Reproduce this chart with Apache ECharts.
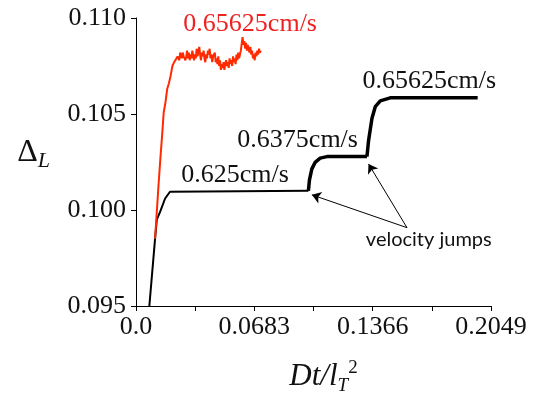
<!DOCTYPE html>
<html>
<head>
<meta charset="utf-8">
<script src="https://cdn.jsdelivr.net/npm/echarts@6/dist/echarts.min.js"></script>
<style>
  html, body { margin: 0; padding: 0; background: #fff; }
  #chart { width: 535px; height: 400px; }
</style>
</head>
<body>
<div id="chart"></div>
<script>
// 坐标轴刻度
const xTickLabels = ['0.0', '', '0.0683', '', '0.1366', '', '0.2049'];
const yTicks = [0.095, 0.100, 0.105, 0.110];

// 黑线：三段速度
const stage1T = [0.0077, 0.0110, 0.0120, 0.0139, 0.0168, 0.0196, 0.0206, 0.0995];
const stage1L = [0.0950, 0.0985, 0.0995, 0.0999, 0.1006, 0.10095, 0.1010, 0.1010];
const stage2T = [0.0995, 0.1001, 0.1015, 0.1034, 0.1063, 0.1102, 0.1333];
const stage2L = [0.1010, 0.10155, 0.10214, 0.10248, 0.1027, 0.10278, 0.10278];
const stage3T = [0.1333, 0.1342, 0.1362, 0.1381, 0.1410, 0.1467, 0.1972];
const stage3L = [0.10278, 0.10359, 0.10478, 0.10538, 0.10568, 0.10584, 0.10584];

// 红线：直接以 0.65625cm/s 运行
const redT = [
  0.0110, 0.0120, 0.0130, 0.0140, 0.0150, 0.0160, 0.0170, 0.0180, 0.0190, 0.0200,
  0.0210, 0.0220, 0.0230, 0.0240, 0.0250, 0.0255, 0.0260, 0.0265, 0.0270, 0.0275,
  0.0280, 0.0285, 0.0290, 0.0295, 0.0300, 0.0305, 0.0310, 0.0315, 0.0320, 0.0325,
  0.0330, 0.0335, 0.0340, 0.0345, 0.0350, 0.0355, 0.0360, 0.0365, 0.0370, 0.0375,
  0.0380, 0.0385, 0.0390, 0.0395, 0.0400, 0.0405, 0.0410, 0.0415, 0.0420, 0.0425,
  0.0430, 0.0435, 0.0440, 0.0445, 0.0450, 0.0455, 0.0460, 0.0465, 0.0470, 0.0475,
  0.0480, 0.0485, 0.0490, 0.0495, 0.0500, 0.0505, 0.0510, 0.0515, 0.0520, 0.0525,
  0.0530, 0.0535, 0.0540, 0.0545, 0.0550, 0.0555, 0.0560, 0.0565, 0.0570, 0.0575,
  0.0580, 0.0585, 0.0590, 0.0595, 0.0600, 0.0605, 0.0610, 0.0615, 0.0620, 0.0625,
  0.0630, 0.0635, 0.0640, 0.0645, 0.0650, 0.0655, 0.0660, 0.0665, 0.0670, 0.0675,
  0.0680, 0.0685, 0.0690, 0.0695, 0.0700, 0.0705, 0.0710, 0.0715, 0.0720
];
const redL = [
  0.0985, 0.0999, 0.1013, 0.1026, 0.1038, 0.1051, 0.1056, 0.1063, 0.1066, 0.1070,
  0.1075, 0.1077, 0.1076, 0.1080, 0.1078, 0.1082, 0.1083, 0.1079, 0.1082, 0.1080,
  0.1081, 0.1078, 0.1080, 0.1083, 0.1079, 0.1082, 0.1078, 0.1081, 0.1079, 0.1083,
  0.1082, 0.1078, 0.1081, 0.1079, 0.1084, 0.1080, 0.1082, 0.1085, 0.1081, 0.1078,
  0.1082, 0.1080, 0.1083, 0.1079, 0.1077, 0.1081, 0.1079, 0.1083, 0.1081, 0.1084,
  0.1079, 0.1081, 0.1077, 0.1080, 0.1079, 0.1082, 0.1077, 0.1079, 0.1076, 0.1080,
  0.1075, 0.1078, 0.1073, 0.1076, 0.1074, 0.1077, 0.1073, 0.1076, 0.1078, 0.1075,
  0.1077, 0.1074, 0.1079, 0.1076, 0.1078, 0.1075, 0.1080, 0.1077, 0.1079, 0.1076,
  0.1081, 0.1078, 0.1082, 0.1079, 0.1081, 0.1083, 0.1082, 0.1090, 0.1086, 0.1088,
  0.1084, 0.1087, 0.1083, 0.1086, 0.1084, 0.1082, 0.1085, 0.1081, 0.1083, 0.1079,
  0.1081, 0.1078, 0.1082, 0.1080, 0.1083, 0.1081, 0.1084, 0.1082, 0.1083
];

// 标注文字（数据坐标）
const noteText = ['0.625cm/s', '0.6375cm/s', '0.65625cm/s', '0.65625cm/s', 'velocity jumps'];
const noteT = [0.0572, 0.0933, 0.1693, 0.0659, 0.1690];
const noteL = [0.10179, 0.10366, 0.10672, 0.10969, 0.09845];

// 箭头：起点 -> 终点
const arrowFrom = [[0.1564, 0.09908], [0.1564, 0.09908]];
const arrowTo = [[0.1015, 0.10079], [0.1342, 0.10240]];

const serif = 'Liberation Serif';
const zip = (a, b) => a.map((v, i) => [v, b[i]]);

function note(i, color, font) {
  return {
    coord: [noteT[i], noteL[i]],
    label: {
      show: true, position: 'inside', formatter: noteText[i],
      color: color, fontFamily: font || serif, fontSize: font ? 20 : 26
    }
  };
}

const chart = echarts.init(document.getElementById('chart'));

const option = {
  animation: false,
  grid: { left: 136, right: 44, top: 18, bottom: 88 },
  xAxis: {
    type: 'value',
    min: 0, max: 0.2049, interval: 0.03415,
    name: '{a|Dt/l}{b|T}{c|2}',
    nameLocation: 'middle', nameGap: 52,
    nameTextStyle: {
      padding: [0, 0, 0, 20],
      rich: {
        a: { fontFamily: serif, fontStyle: 'italic', fontSize: 31, color: '#111' },
        b: { fontFamily: serif, fontStyle: 'italic', fontSize: 19, color: '#111', padding: [18, 0, 0, 0] },
        c: { fontFamily: serif, fontSize: 19, color: '#111', padding: [0, 0, 16, 0] }
      }
    },
    axisLine: { lineStyle: { color: '#000', width: 1 } },
    axisTick: { length: 5, lineStyle: { color: '#000' } },
    axisLabel: {
      fontFamily: serif, fontSize: 26, color: '#111', margin: 8,
      showMaxLabel: true,
      formatter: (v, i) => xTickLabels[i] || ''
    },
    splitLine: { show: false }
  },
  yAxis: {
    type: 'value',
    min: yTicks[0], max: yTicks[yTicks.length - 1], interval: 0.005,
    name: '{d|Δ}{l|L}',
    nameLocation: 'middle', nameRotate: 0, nameGap: 86,
    nameTextStyle: {
      padding: [0, 0, 18, 0],
      rich: {
        d: { fontFamily: serif, fontSize: 32, color: '#111' },
        l: { fontFamily: serif, fontStyle: 'italic', fontSize: 22, color: '#111', padding: [16, 0, 0, 0] }
      }
    },
    axisLine: { show: true, lineStyle: { color: '#000', width: 1 } },
    axisTick: { show: true, length: 5, lineStyle: { color: '#000' } },
    axisLabel: {
      fontFamily: serif, fontSize: 26, color: '#111', margin: 10,
      formatter: v => v.toFixed(3)
    },
    splitLine: { show: false }
  },
  series: [
    {
      type: 'line', data: zip(stage1T, stage1L), showSymbol: false,
      lineStyle: { color: '#000', width: 2 },
      markPoint: {
        symbolSize: 0,
        data: [note(0, '#111'), note(1, '#111'), note(2, '#111'), note(4, '#111', 'Lato')]
      },
      markLine: {
        silent: true,
        symbol: ['none', 'arrow'], symbolSize: 9,
        label: { show: false },
        lineStyle: { color: '#000', width: 1, type: 'solid' },
        data: arrowFrom.map((p, i) => [{ coord: p }, { coord: arrowTo[i] }])
      }
    },
    {
      type: 'line', data: zip(stage2T, stage2L), showSymbol: false,
      lineStyle: { color: '#000', width: 3.5 }
    },
    {
      type: 'line', data: zip(stage3T, stage3L), showSymbol: false,
      lineStyle: { color: '#000', width: 3.5 }
    },
    {
      type: 'line', data: zip(redT, redL), showSymbol: false,
      lineStyle: { color: '#ff2a00', width: 2 },
      markPoint: { symbolSize: 0, data: [note(3, '#ee2222')] }
    }
  ]
};

chart.setOption(option);

window.addEventListener('resize', function () {
  chart.resize();
});
</script>
</body>
</html>
